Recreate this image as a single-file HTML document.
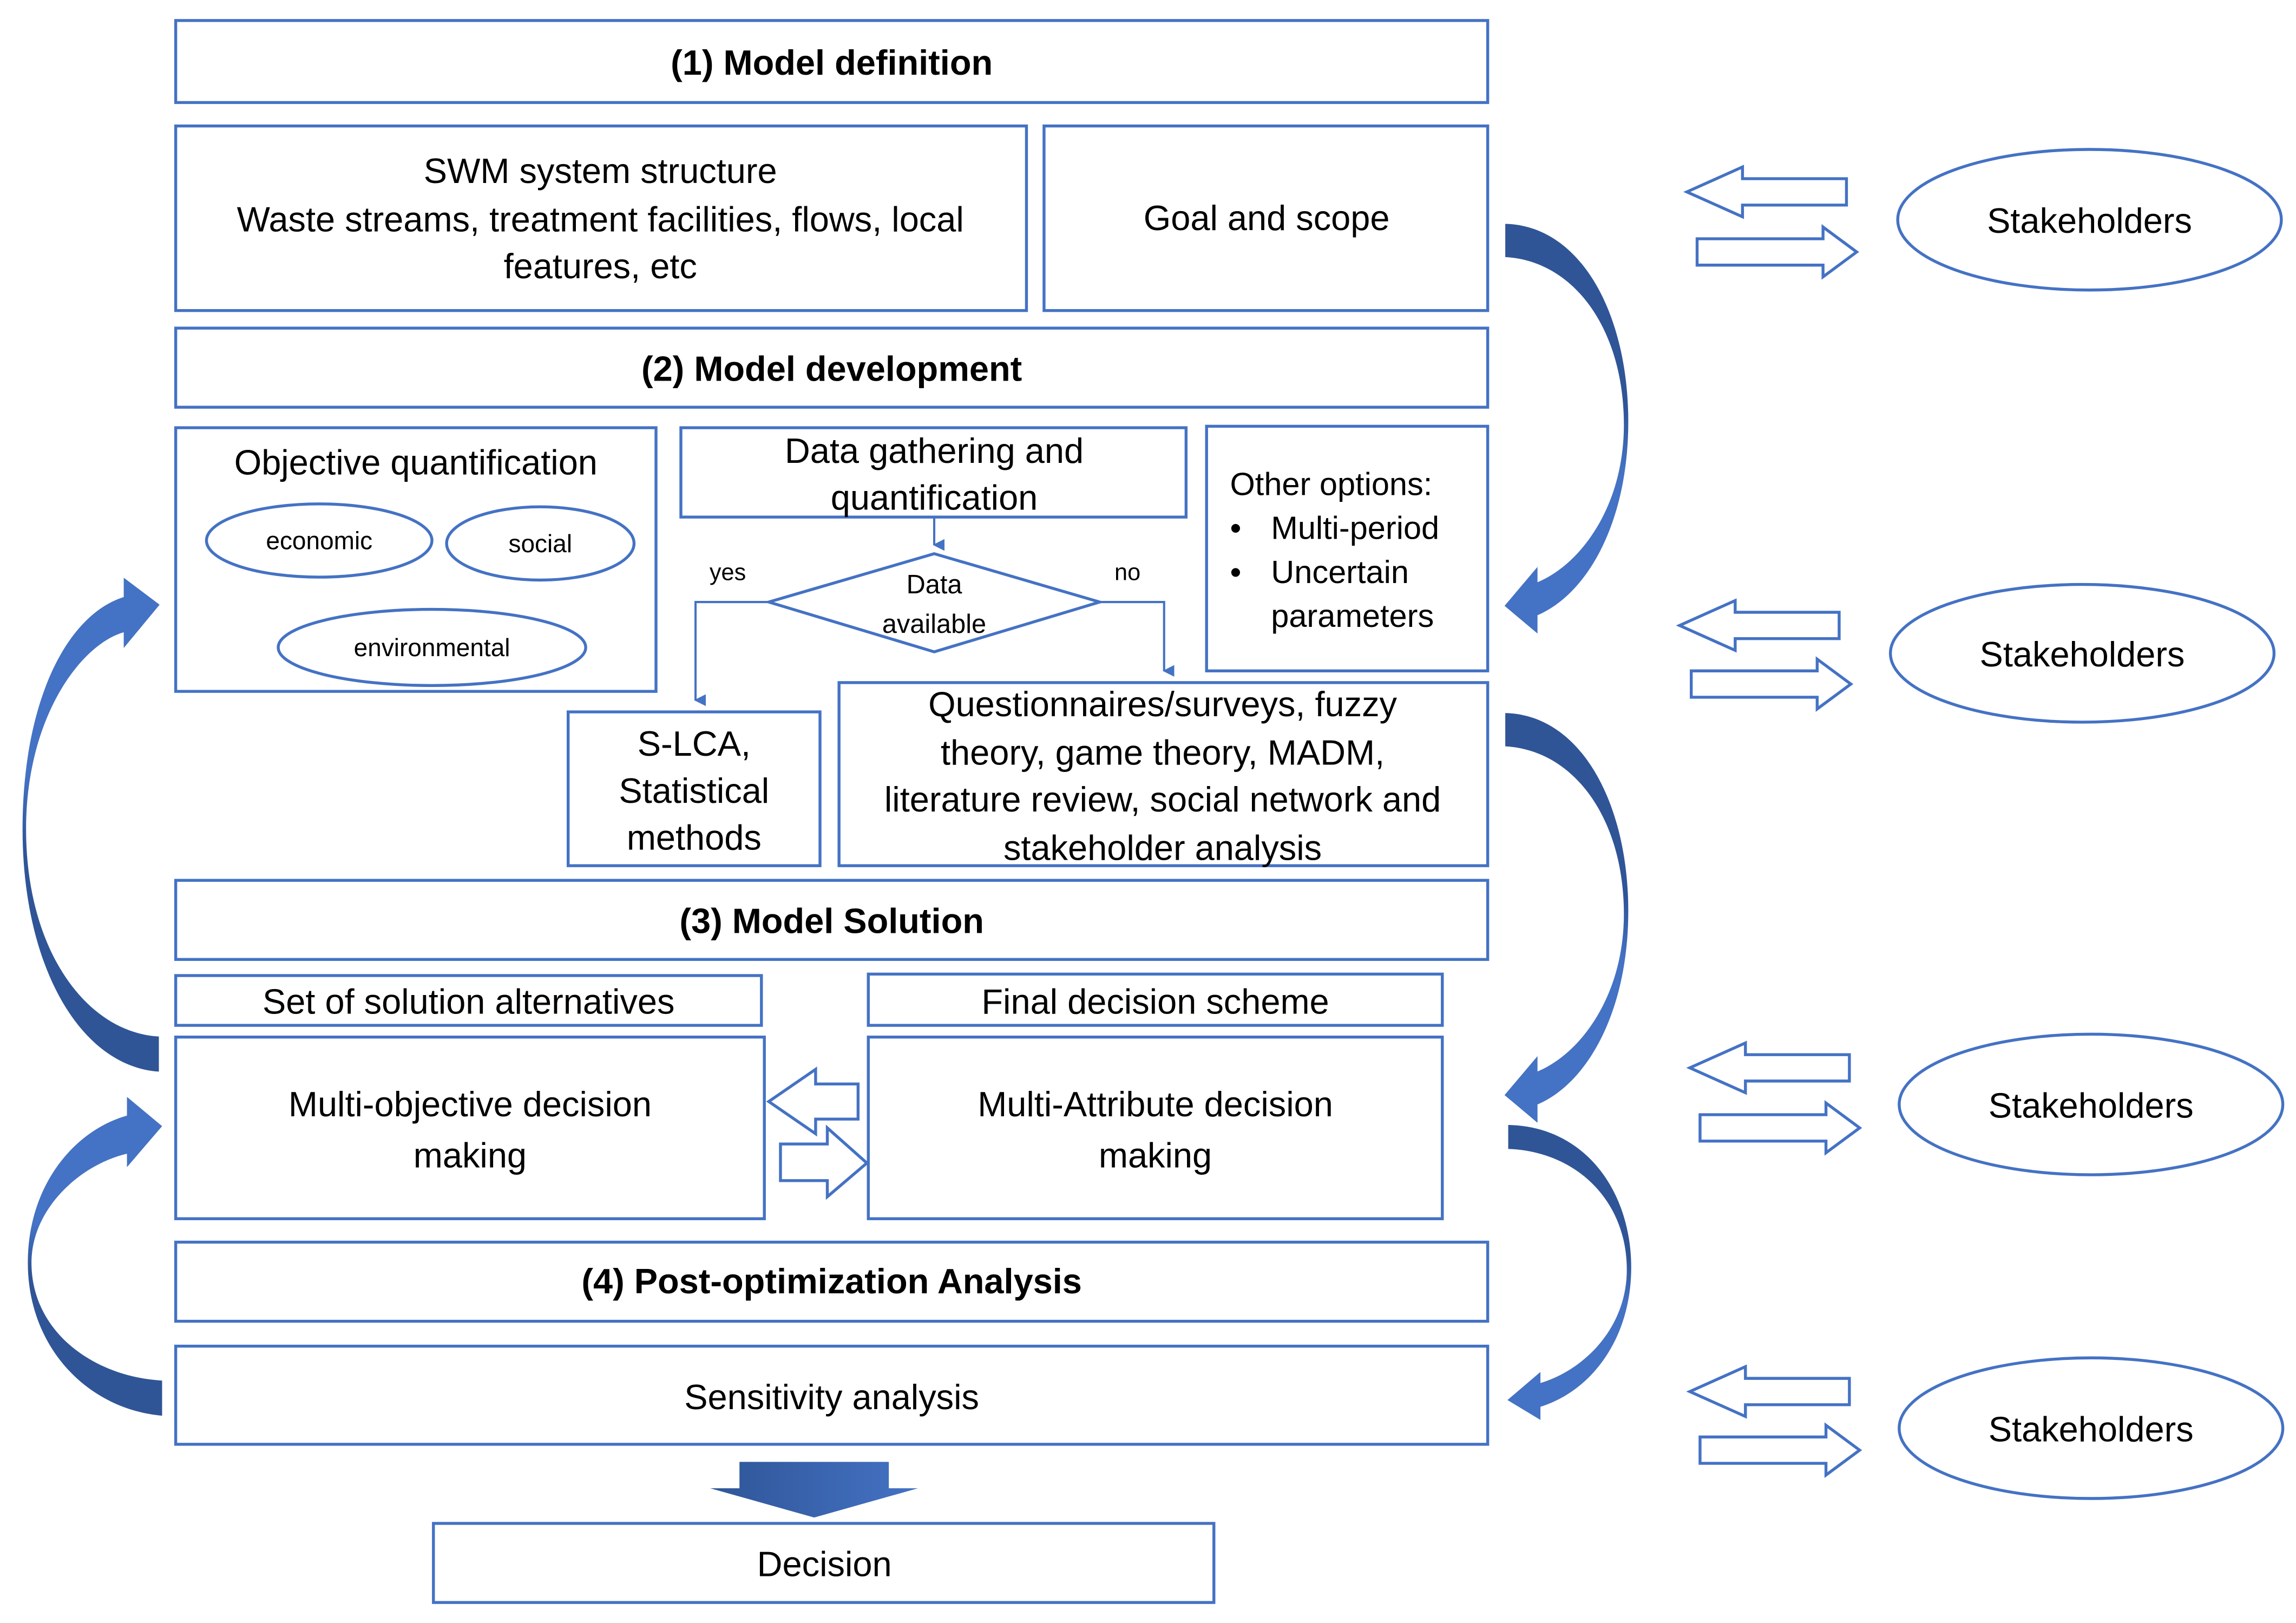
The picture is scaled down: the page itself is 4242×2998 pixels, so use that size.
<!DOCTYPE html>
<html><head><meta charset="utf-8"><style>
html,body{margin:0;padding:0;background:#fff;}
svg{display:block}
text{font-family:"Liberation Sans",sans-serif;fill:#000;}
</style></head><body>
<svg width="4242" height="2998" viewBox="0 0 1568 1108" preserveAspectRatio="none" xmlns="http://www.w3.org/2000/svg">
<defs>
<linearGradient id="gd" x1="0" y1="0" x2="0" y2="1"><stop offset="0.45" stop-color="#2f5597"/><stop offset="0.6" stop-color="#4472c4"/></linearGradient>
<linearGradient id="gu" x1="0" y1="1" x2="0" y2="0"><stop offset="0.45" stop-color="#2f5597"/><stop offset="0.6" stop-color="#4472c4"/></linearGradient>
<linearGradient id="g" x1="0" y1="0" x2="1" y2="0"><stop offset="0" stop-color="#2f5597"/><stop offset="1" stop-color="#4472c4"/></linearGradient>
<marker id="ah" markerWidth="8" markerHeight="8" refX="4" refY="7" orient="auto" markerUnits="userSpaceOnUse"><path d="M0,0 L8,0 L4,8 Z" fill="#4472c4"/></marker>
</defs>
<g fill="#fff" stroke="#4472c4" stroke-width="2">
<rect x="120" y="14" width="896" height="56"/>
<rect x="120" y="86" width="581" height="126"/>
<rect x="713" y="86" width="303" height="126"/>
<rect x="120" y="224" width="896" height="54"/>
<rect x="120" y="292" width="328" height="180"/>
<ellipse cx="218" cy="369" rx="77" ry="25"/>
<ellipse cx="369" cy="371" rx="64" ry="25"/>
<ellipse cx="295" cy="442" rx="105" ry="26"/>
<rect x="465" y="292" width="345" height="61"/>
<polygon points="525,411 638,378 751,411 638,445"/>
<rect x="824" y="291" width="192" height="167"/>
<rect x="388" y="486" width="172" height="105"/>
<rect x="573" y="466" width="443" height="125"/>
<rect x="120" y="601" width="896" height="54"/>
<rect x="120" y="666" width="400" height="34"/>
<rect x="593" y="665" width="392" height="35"/>
<rect x="120" y="708" width="402" height="124"/>
<rect x="593" y="708" width="392" height="124"/>
<rect x="120" y="848" width="896" height="54"/>
<rect x="120" y="919" width="896" height="67"/>
<rect x="296" y="1040" width="533" height="54"/>
<ellipse cx="1427" cy="150" rx="131" ry="48"/>
<ellipse cx="1422" cy="446" rx="131" ry="47"/>
<ellipse cx="1428" cy="754" rx="131" ry="48"/>
<ellipse cx="1428" cy="975" rx="131" ry="48"/>
</g>
<g fill="none" stroke="#4472c4" stroke-width="1.5">
<line x1="638" y1="353" x2="638" y2="372" marker-end="url(#ah)"/>
<polyline points="525,411 475,411 475,478" marker-end="url(#ah)"/>
<polyline points="751,411 795,411 795,458" marker-end="url(#ah)"/>
</g>
<g fill="#fff" stroke="#4472c4" stroke-width="2">
<path d="M1261,122 L1190,122 L1190,114 L1152,131 L1190,148 L1190,140 L1261,140 Z"/>
<path d="M1159,163 L1245,163 L1245,155 L1268,172 L1245,189 L1245,181 L1159,181 Z"/>
<path transform="translate(-5,296)" d="M1261,122 L1190,122 L1190,114 L1152,131 L1190,148 L1190,140 L1261,140 Z"/>
<path transform="translate(-4,295)" d="M1159,163 L1245,163 L1245,155 L1268,172 L1245,189 L1245,181 L1159,181 Z"/>
<path transform="translate(2,598)" d="M1261,122 L1190,122 L1190,114 L1152,131 L1190,148 L1190,140 L1261,140 Z"/>
<path transform="translate(2,598)" d="M1159,163 L1245,163 L1245,155 L1268,172 L1245,189 L1245,181 L1159,181 Z"/>
<path transform="translate(2,819)" d="M1261,122 L1190,122 L1190,114 L1152,131 L1190,148 L1190,140 L1261,140 Z"/>
<path transform="translate(2,818)" d="M1159,163 L1245,163 L1245,155 L1268,172 L1245,189 L1245,181 L1159,181 Z"/>
<path d="M586,740 L557,740 L557,730 L525,752 L557,774 L557,764 L586,764 Z"/>
<path d="M533,781 L565,781 L565,770 L592,794 L565,817 L565,806 L533,806 Z"/>
</g>
<g>
<path fill="url(#gd)" d="M1028,152.8 C1080,154 1112,215 1112,288 C1112,355 1085,405 1050,420 L1050,432.5 L1027.5,413.6 L1050,387 L1050,397.5 C1080,385 1109,345 1109,290 C1109,225 1075,178 1028,175.5 Z"/>
<path fill="url(#gd)" transform="translate(0,334)" d="M1028,152.8 C1080,154 1112,215 1112,288 C1112,355 1085,405 1050,420 L1050,432.5 L1027.5,413.6 L1050,387 L1050,397.5 C1080,385 1109,345 1109,290 C1109,225 1075,178 1028,175.5 Z"/>
<path fill="url(#gd)" transform="translate(2,768) scale(1,0.72) translate(0,-152.8)" d="M1028,152.8 C1080,154 1112,215 1112,288 C1112,355 1085,405 1050,420 L1050,432.5 L1027.5,413.6 L1050,387 L1050,397.5 C1080,385 1109,345 1109,290 C1109,225 1075,178 1028,175.5 Z"/>
<path fill="url(#gu)" d="M108.5,731.6 C55,728 15.4,660 15.4,566 C15.4,480 45,420 84.5,407.6 L84.5,394.4 L109,412.8 L84.5,442.4 L84.5,431.6 C55,440 17.8,490 17.8,566 C17.8,650 60,705 108.5,707.6 Z"/>
<path fill="url(#gu)" d="M110.7,966.5 C60,962 19,920 19,862 C19,810 50,772 86.7,761.6 L86.7,748.8 L110.7,768.8 L86.7,796.8 L86.7,787.6 C55,795 21.5,825 21.5,862 C21.5,910 65,940 110.7,942.5 Z"/>
<path fill="url(#g)" d="M505,998 L607,998 L607,1016 L627,1016 L556,1036 L485,1016 L505,1016 Z"/>
</g>
<g font-size="24" text-anchor="middle">
<text x="568" y="51" font-weight="bold">(1) Model definition</text>
<text x="410" y="125">SWM system structure</text>
<text x="410" y="158">Waste streams, treatment facilities, flows, local</text>
<text x="410" y="190">features, etc</text>
<text x="865" y="157">Goal and scope</text>
<text x="568" y="260" font-weight="bold">(2) Model development</text>
<text x="284" y="324">Objective  quantification</text>
<text x="638" y="316">Data gathering and</text>
<text x="638" y="348">quantification</text>
<text x="474" y="516">S-LCA,</text>
<text x="474" y="548">Statistical</text>
<text x="474" y="580">methods</text>
<text x="794" y="489">Questionnaires/surveys,  fuzzy</text>
<text x="794" y="522">theory, game theory, MADM,</text>
<text x="794" y="554">literature review, social network and</text>
<text x="794" y="587">stakeholder analysis</text>
<text x="568" y="637" font-weight="bold">(3) Model Solution</text>
<text x="320" y="692">Set of solution alternatives</text>
<text x="789" y="692">Final decision scheme</text>
<text x="321" y="762">Multi-objective decision</text>
<text x="321" y="797">making</text>
<text x="789" y="762">Multi-Attribute decision</text>
<text x="789" y="797">making</text>
<text x="568" y="883" font-weight="bold">(4) Post-optimization Analysis</text>
<text x="568" y="962">Sensitivity analysis</text>
<text x="563" y="1076">Decision</text>
<text x="1427" y="159">Stakeholders</text>
<text x="1422" y="455">Stakeholders</text>
<text x="1428" y="763">Stakeholders</text>
<text x="1428" y="984">Stakeholders</text>
</g>
<g font-size="22">
<text x="840" y="338">Other options:</text>
<text x="840" y="368">•</text><text x="868" y="368">Multi-period</text>
<text x="840" y="398">•</text><text x="868" y="398">Uncertain</text>
<text x="868" y="428">parameters</text>
</g>
<g font-size="17" text-anchor="middle">
<text x="218" y="375">economic</text>
<text x="369" y="377">social</text>
<text x="295" y="448">environmental</text>
<text x="638" y="405" font-size="18">Data</text>
<text x="638" y="432" font-size="18">available</text>
<text x="497" y="396" font-size="16">yes</text>
<text x="770" y="396" font-size="16">no</text>
</g>
</svg>
</body></html>
